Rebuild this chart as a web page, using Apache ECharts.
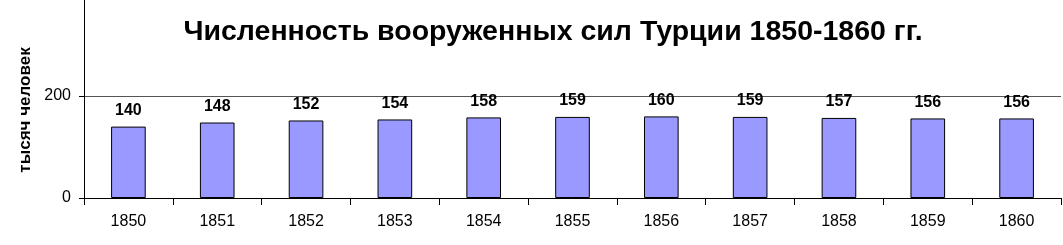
<!DOCTYPE html>
<html><head><meta charset="utf-8">
<script src="https://cdn.jsdelivr.net/npm/echarts@6/dist/echarts.min.js"></script>
<style>html,body{margin:0;padding:0;background:#fff}#c{width:1063px;height:245px}</style>
</head><body><div id="c"></div>
<script>
var categories = ['1850','1851','1852','1853','1854','1855','1856','1857','1858','1859','1860'];
var values = [140,148,152,154,158,159,160,159,157,156,156];
var yTicks = [0,200,400];
var chart = echarts.init(document.getElementById('c'), null, {renderer:'canvas'});
chart.setOption({
  animation:false,
  backgroundColor:'#fff',
  title:{text:'Численность вооруженных сил Турции 1850-1860 гг.',left:548,top:13,textAlign:'center',
    textStyle:{fontFamily:'Liberation Sans',fontWeight:'bold',fontSize:28.5,color:'#000'}},
  grid:{left:84,right:2,top:-6,bottom:47,outerBoundsMode:'none',containLabel:false},
  xAxis:{type:'category',data:categories,
    axisLine:{lineStyle:{color:'#000',width:1}},
    axisTick:{show:true,length:7,lineStyle:{color:'#000'}},
    axisLabel:{fontFamily:'Liberation Sans',fontSize:16,color:'#000',margin:16}},
  yAxis:{type:'value',min:yTicks[0],max:yTicks[yTicks.length-1],interval:200,
    name:'тысяч человек',nameLocation:'middle',nameGap:49,nameRotate:90,
    nameTextStyle:{fontFamily:'Liberation Sans',fontWeight:'bold',fontSize:17,color:'#000',padding:[0,28,0,0]},
    axisLine:{show:true,lineStyle:{color:'#000'}},
    axisTick:{show:true,length:5,lineStyle:{color:'#000'}},
    axisLabel:{fontFamily:'Liberation Sans',fontSize:16,color:'#000',margin:13},
    splitLine:{show:true,lineStyle:{color:'#555',width:1}}},
  series:[{type:'bar',data:values,barWidth:'39%',
    itemStyle:{color:'#9999FF',borderColor:'#000',borderWidth:1},
    label:{show:true,position:'top',distance:8,fontFamily:'Liberation Sans',fontWeight:'bold',fontSize:16,color:'#000'}}]
});
</script></body></html>
